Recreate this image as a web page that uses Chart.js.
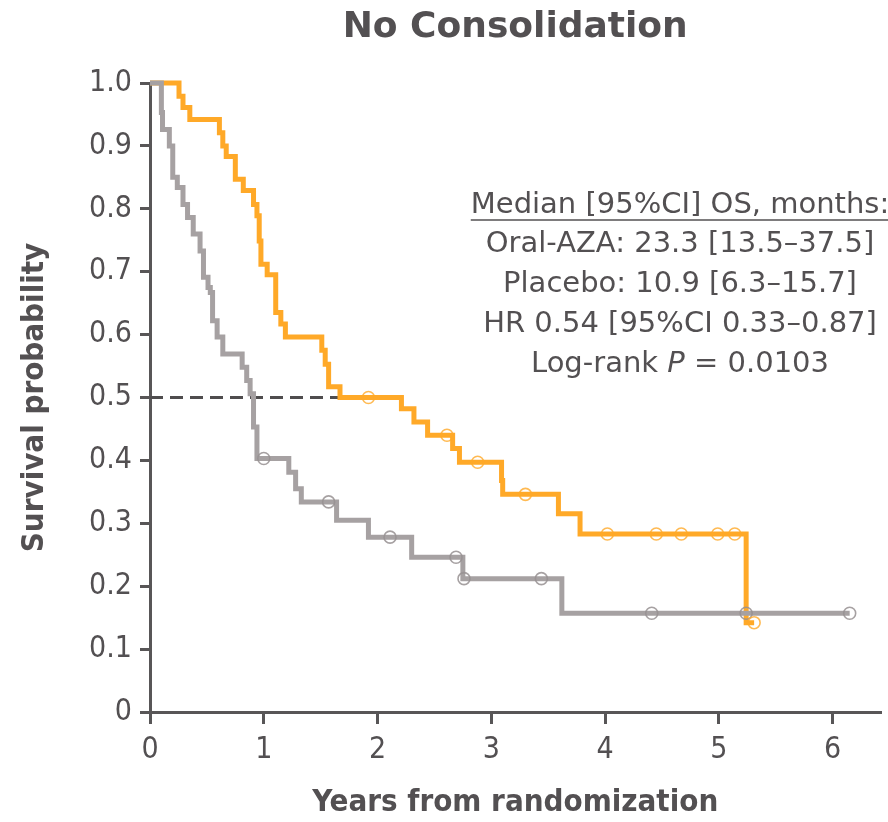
<!DOCTYPE html>
<html>
<head>
<meta charset="utf-8">
<script src="https://cdn.jsdelivr.net/npm/chart.js@4"></script>
<style>
  html, body { margin: 0; padding: 0; background: #fff; }
</style>
</head>
<body>
<canvas id="grafico" width="888" height="822"></canvas>
<script>
// Curva Oral-AZA (años, probabilidad de supervivencia)
const tiemposAza = [0, 0.255, 0.29, 0.35, 0.61, 0.64, 0.67, 0.75, 0.82, 0.91, 0.94, 0.96, 0.975, 1.03, 1.105, 1.15, 1.19, 1.51, 1.54, 1.57, 1.67, 2.21, 2.32, 2.44, 2.66, 2.72, 3.09, 3.10, 3.59, 3.78, 5.24, 5.31]
const survAza = [1.0, 0.979, 0.961, 0.942, 0.921, 0.90, 0.883, 0.847, 0.829, 0.807, 0.789, 0.749, 0.712, 0.695, 0.635, 0.617, 0.596, 0.575, 0.553, 0.517, 0.50, 0.482, 0.461, 0.44, 0.419, 0.397, 0.368, 0.346, 0.315, 0.283, 0.142, 0.142]
const censuraAzaT = [1.92, 2.61, 2.88, 3.30, 4.02, 4.45, 4.67, 4.99, 5.14, 5.31]
const censuraAzaS = [0.50, 0.44, 0.397, 0.346, 0.283, 0.283, 0.283, 0.283, 0.283, 0.142]

// Curva Placebo
const tiemposPlacebo = [0, 0.10, 0.11, 0.17, 0.20, 0.24, 0.29, 0.33, 0.38, 0.44, 0.47, 0.51, 0.53, 0.55, 0.59, 0.64, 0.81, 0.85, 0.88, 0.91, 0.94, 1.22, 1.28, 1.33, 1.64, 1.92, 2.30, 2.75, 3.62, 6.15]
const survPlacebo = [1.0, 0.953, 0.926, 0.90, 0.85, 0.834, 0.807, 0.786, 0.76, 0.733, 0.691, 0.675, 0.667, 0.622, 0.596, 0.569, 0.548, 0.527, 0.506, 0.453, 0.403, 0.381, 0.355, 0.334, 0.305, 0.278, 0.246, 0.212, 0.157, 0.157]
const censuraPlaceboT = [1.0, 1.57, 2.11, 2.69, 2.76, 3.44, 4.41, 5.24, 6.15]
const censuraPlaceboS = [0.403, 0.334, 0.278, 0.246, 0.212, 0.212, 0.157, 0.157, 0.157]

// linea de la mediana
const medianaT = [0, 1.67]
const medianaS = [0.5, 0.5]

const ticksY = ['0', '0.1', '0.2', '0.3', '0.4', '0.5', '0.6', '0.7', '0.8', '0.9', '1.0']
const ticksX = ['0', '1', '2', '3', '4', '5', '6']

const textos = [
  'Median [95%CI] OS, months:',
  'Oral-AZA: 23.3 [13.5\u201337.5]',
  'Placebo: 10.9 [6.3\u201315.7]',
  'HR 0.54 [95%CI 0.33\u20130.87]',
  'Log-rank P = 0.0103'
]

const gris_texto = '#535052'
const gris_eje = '#585657'
const naranja = '#FFA928'
const gris = '#A6A1A2'
const fuente = "'DejaVu Sans Condensed', 'DejaVu Sans', sans-serif"
const fuenteAncha = "'DejaVu Sans', sans-serif"

function puntos(xs, ys){
  return xs.map((x, i) => ({x: x, y: ys[i]}))
}

// texto de la mediana / HR
const cuadroTexto = {
  id: 'cuadroTexto',
  afterDatasetsDraw(chart){
    const ctx = chart.ctx
    const cx = 680
    const ys = [205, 244, 284, 324, 364]
    const normal = '29px ' + fuenteAncha
    const cursiva = 'italic 29px ' + fuenteAncha
    ctx.save()
    ctx.fillStyle = gris_texto
    ctx.strokeStyle = gris_texto
    ctx.textBaseline = 'middle'
    ctx.font = normal
    for(let i = 0; i < 4; i++){
      ctx.textAlign = 'center'
      ctx.fillText(textos[i], cx, ys[i])
      if(i == 0){
        let w = ctx.measureText(textos[i]).width
        ctx.lineWidth = 1.5
        ctx.beginPath()
        ctx.moveTo(cx - w / 2, ys[i] + 15)
        ctx.lineTo(cx + w / 2, ys[i] + 15)
        ctx.stroke()
      }
    }
    // ultima linea con la P en cursiva
    let partes = textos[4].split('P')
    ctx.textAlign = 'left'
    let w1 = ctx.measureText(partes[0]).width
    let w3 = ctx.measureText(partes[1]).width
    ctx.font = cursiva
    let w2 = ctx.measureText('P').width
    let x = cx - (w1 + w2 + w3) / 2
    ctx.font = normal
    ctx.fillText(partes[0], x, ys[4])
    ctx.font = cursiva
    ctx.fillText('P', x + w1, ys[4])
    ctx.font = normal
    ctx.fillText(partes[1], x + w1 + w2, ys[4])
    ctx.restore()
  }
}

let grafico = document.getElementById('grafico').getContext('2d')

new Chart(grafico, {
  type: 'line',
  data: {
    datasets: [
      {
        label: 'Oral-AZA censored',
        data: puntos(censuraAzaT, censuraAzaS),
        showLine: false,
        pointStyle: 'circle',
        pointRadius: 6,
        pointBorderWidth: 1.6,
        pointBorderColor: 'rgba(255,169,40,0.8)',
        pointBackgroundColor: 'rgba(0,0,0,0)',
        clip: false,
        order: 0
      },
      {
        label: 'Placebo censored',
        data: puntos(censuraPlaceboT, censuraPlaceboS),
        showLine: false,
        pointStyle: 'circle',
        pointRadius: 6,
        pointBorderWidth: 1.6,
        pointBorderColor: 'rgba(150,145,146,0.85)',
        pointBackgroundColor: 'rgba(0,0,0,0)',
        clip: false,
        order: 0
      },
      {
        label: 'Placebo',
        data: puntos(tiemposPlacebo, survPlacebo),
        borderColor: gris,
        borderWidth: 5,
        stepped: 'before',
        pointRadius: 0,
        fill: false,
        clip: false,
        order: 1
      },
      {
        label: 'Oral-AZA',
        data: puntos(tiemposAza, survAza),
        borderColor: naranja,
        borderWidth: 5,
        stepped: 'before',
        pointRadius: 0,
        fill: false,
        clip: false,
        order: 2
      },
      {
        label: 'Mediana',
        data: puntos(medianaT, medianaS),
        borderColor: '#4f4d4e',
        borderWidth: 3,
        borderDash: [13, 7],
        pointRadius: 0,
        fill: false,
        clip: false,
        order: 3
      }
    ]
  },
  options: {
    responsive: false,
    animation: false,
    layout: { padding: { left: 0, right: 2, top: 0, bottom: 0 } },
    plugins: {
      legend: { display: false },
      tooltip: { enabled: false },
      title: {
        display: true,
        text: 'No Consolidation',
        fullSize: false,
        color: gris_texto,
        font: { family: fuenteAncha, size: 36, weight: 'bold', lineHeight: 1.2 },
        padding: { top: 6, bottom: 33.8 }
      }
    },
    scales: {
      x: {
        type: 'linear',
        min: 0,
        max: 6.42,
        afterFit: s => { s.height = 110 },
        ticks: {
          stepSize: 1,
          includeBounds: false,
          autoSkip: false,
          maxRotation: 0,
          padding: 8,
          color: gris_texto,
          font: { family: fuente, size: 30 },
          callback: (v, i) => ticksX[i]
        },
        grid: { drawOnChartArea: false, drawTicks: true, tickLength: 12, color: gris_eje, lineWidth: 3 },
        border: { display: true, color: gris_eje, width: 3 },
        title: {
          display: true,
          text: 'Years from randomization',
          color: gris_texto,
          font: { family: fuente, size: 31, weight: 'bold', lineHeight: 1.2 },
          padding: { top: 0, bottom: 0 }
        }
      },
      y: {
        min: 0,
        max: 1,
        afterFit: s => { s.width = 150 },
        ticks: {
          stepSize: 0.1,
          autoSkip: false,
          padding: 8,
          color: gris_texto,
          font: { family: fuente, size: 30 },
          callback: (v, i) => ticksY[i]
        },
        grid: { drawOnChartArea: false, drawTicks: true, tickLength: 10, color: gris_eje, lineWidth: 3 },
        border: { display: true, color: gris_eje, width: 3 },
        title: {
          display: true,
          text: 'Survival probability',
          color: gris_texto,
          font: { family: fuente, size: 31, weight: 'bold', lineHeight: 1.2 },
          padding: { top: 16, bottom: 0 }
        }
      }
    }
  },
  plugins: [cuadroTexto]
})
</script>
</body>
</html>
